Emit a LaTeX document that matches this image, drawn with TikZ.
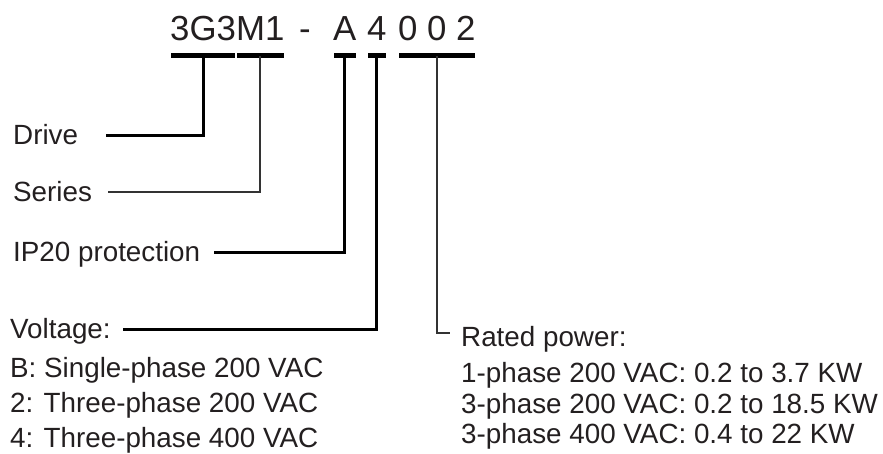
\documentclass[tikz,border=0pt]{standalone}
\usepackage{fontspec}
\setmainfont{Liberation Sans}
\usetikzlibrary{positioning}
\definecolor{ink}{HTML}{231F20}
\tikzset{
  x=1pt, y=-1pt, % one unit is one pixel, y grows downwards
  every node/.style={inner sep=0pt, text=ink},
  % the letters of the type code
  code/.style={font=\fontsize{34.8}{40}\selectfont, anchor=base west,
    text depth=0pt},
  % the names at the left, east anchor sits at half cap height
  lbl/.style={font=\fontsize{27.8}{33}\selectfont, anchor=west,
    text height=19.9pt, text depth=0pt},
  item/.style={font=\fontsize{27.8}{33}\selectfont, anchor=base west},
}

\begin{document}
\begin{tikzpicture}[bar/.style={line width=5pt, shorten <=1pt, shorten >=1pt},
    lead/.style={line width=3pt, draw=black},
    leadthin/.style={line width=2pt, draw=black!80}]
    \useasboundingbox (0,0) rectangle (883,453);

    % type code
    \node[code] (c1) at (170,40) {3G3};
    \node[code] (c2) at (236,40) {M1};
    \node[code] (dash) at (299,40) {-};
    \node[code] (c3) at (333,40) {A};
    \node[code] (c4) at (367,40) {4};
    \node[code] (c5) at (398,40) {0 0 2};
    \foreach \c in {c1,c2,c3,c4,c5}
      \draw[bar] ([yshift=-15.5pt]\c.south west) -- ([yshift=-15.5pt]\c.south east);

    % labels
    \node[lbl] (drive) at (13,135) {Drive};
    \node[lbl] (series) at (13,192) {Series};
    \node[lbl] (ip) at (13,252) {IP20 protection};
    \node[lbl] (volt) at (10,329) {Voltage:};
    \node[item] (v1) at (10,377) {B: Single-phase 200 VAC};
    \node[item] (v2) at (10,412) {2: Three-phase 200 VAC};
    \node[item] (v3) at (10,447) {4: Three-phase 400 VAC};

    \node[lbl] (power) at (461,337) {Rated power:};
    \node[item] (p1) at (461,382) {1-phase 200 VAC: 0.2 to 3.7 KW};
    \node[item] (p2) at (461,413) {3-phase 200 VAC: 0.2 to 18.5 KW};
    \node[item] (p3) at (461,443) {3-phase 400 VAC: 0.4 to 22 KW};

    % leads
    \draw[lead] ([yshift=-15.5pt]c1.south) |- ([xshift=27.6pt]drive.east);
    \draw[leadthin] ([yshift=-15.5pt]c2.south) |- ([xshift=16pt]series.east);
    \draw[lead] ([yshift=-15.5pt]c3.south) |- ([xshift=13.4pt]ip.east);
    \draw[lead] ([yshift=-15.5pt]c4.south) |- ([xshift=11.7pt]volt.east);
    \draw[leadthin] ([yshift=-15.5pt]c5.south) |- ([xshift=-11pt,yshift=4pt]power.west);
  \end{tikzpicture}
\end{document}
